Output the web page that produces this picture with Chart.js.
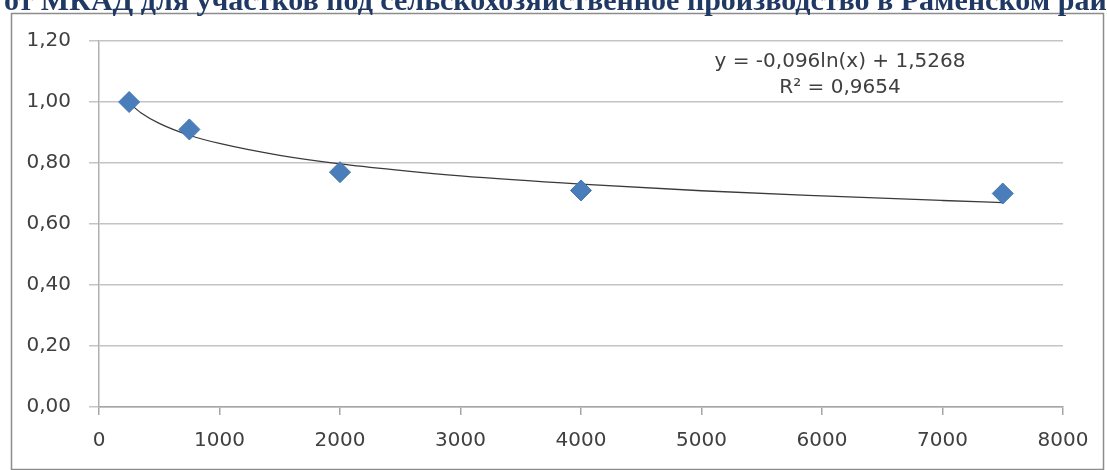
<!DOCTYPE html>
<html>
<head>
<meta charset="utf-8">
<script src="https://cdn.jsdelivr.net/npm/chart.js@4.4.1/dist/chart.umd.min.js"></script>
<style>
  html, body { margin: 0; padding: 0; background: #fff; }
  #wrap { position: relative; width: 1107px; height: 470px; }
</style>
</head>
<body>
<div id="wrap"><canvas id="chart" width="1107" height="470"></canvas></div>
<script>
// data
const distX = [250, 750, 2000, 4000, 7500];
const coefY = [1.00, 0.91, 0.77, 0.71, 0.70];

// trendline y = -0,096ln(x) + 1,5268
const trendX = [250, 350, 500, 750, 1000, 1500, 2000, 2500, 3000, 4000, 5000, 6000, 7000, 7500];
const trendY = [0.997, 0.964, 0.930, 0.891, 0.864, 0.825, 0.797, 0.776, 0.758, 0.731, 0.709, 0.692, 0.677, 0.670];

const titleText = 'от МКАД для участков под сельскохозяйственное производство в Раменском районе';
const equationText = 'y = -0,096ln(x) + 1,5268';
const r2Text = 'R² = 0,9654';

const labelFont = { family: 'DejaVu Sans', size: 20 };
const labelColor = '#404040';

// frame, title and trendline label
const decorPlugin = {
    id: 'decor',
    beforeDraw(chart) {
        const ctx = chart.ctx;
        ctx.save();
        ctx.fillStyle = '#fff';
        ctx.fillRect(0, 0, chart.width, chart.height);
        ctx.strokeStyle = '#8c8c8c';
        ctx.lineWidth = 1.5;
        ctx.strokeRect(11.5, 13.5, 1092, 456);
        ctx.restore();
    },
    afterDraw(chart) {
        const ctx = chart.ctx;
        ctx.save();
        ctx.fillStyle = '#1f3864';
        ctx.font = 'bold 30px "Liberation Serif"';
        ctx.textBaseline = 'alphabetic';
        ctx.textAlign = 'left';
        ctx.fillText(titleText, 4, 10);

        ctx.fillStyle = labelColor;
        ctx.font = '20px "DejaVu Sans"';
        ctx.textAlign = 'center';
        ctx.textBaseline = 'middle';
        ctx.fillText(equationText, 840, 62);
        ctx.fillText(r2Text, 840, 88);
        ctx.restore();
    }
};

const points = distX.map((x, i) => ({ x: x, y: coefY[i] }));
const trend = trendX.map((x, i) => ({ x: x, y: trendY[i] }));

new Chart(document.getElementById('chart'), {
    type: 'scatter',
    data: {
        datasets: [
            {
                label: 'data',
                data: points,
                pointStyle: 'rectRot',
                pointRadius: 10.5,
                pointHoverRadius: 10.5,
                backgroundColor: '#4a7ebb',
                borderColor: '#4574ad',
                borderWidth: 1,
                order: 1
            },
            {
                label: 'trend',
                type: 'line',
                data: trend,
                showLine: true,
                pointRadius: 0,
                borderColor: '#3a3a3a',
                borderWidth: 1.3,
                cubicInterpolationMode: 'monotone',
                fill: false,
                order: 2
            }
        ]
    },
    options: {
        responsive: false,
        animation: false,
        events: [],
        layout: { padding: { left: 0, top: 41, right: 44, bottom: 0 } },
        plugins: {
            legend: { display: false },
            tooltip: { enabled: false }
        },
        scales: {
            x: {
                type: 'linear',
                min: 0,
                max: 8000,
                ticks: {
                    stepSize: 1000,
                    font: labelFont,
                    color: labelColor,
                    padding: 14,
                    maxRotation: 0,
                    callback: v => String(v)
                },
                grid: { drawOnChartArea: false, drawTicks: true, tickLength: 8, color: '#a6a6a6', lineWidth: 1.5 },
                border: { color: '#a6a6a6', width: 1.5 },
                afterFit(scale) { scale.height = 63; }
            },
            y: {
                type: 'linear',
                min: 0,
                max: 1.2,
                ticks: {
                    stepSize: 0.2,
                    font: labelFont,
                    color: labelColor,
                    padding: 18,
                    callback: v => v.toFixed(2).replace('.', ',')
                },
                grid: { drawTicks: true, tickLength: 10, color: '#c4c4c4', lineWidth: 1.5 },
                border: { color: '#b0b0b0', width: 1.5 },
                afterFit(scale) { scale.width = 99; }
            }
        }
    },
    plugins: [decorPlugin]
});
</script>
</body>
</html>
